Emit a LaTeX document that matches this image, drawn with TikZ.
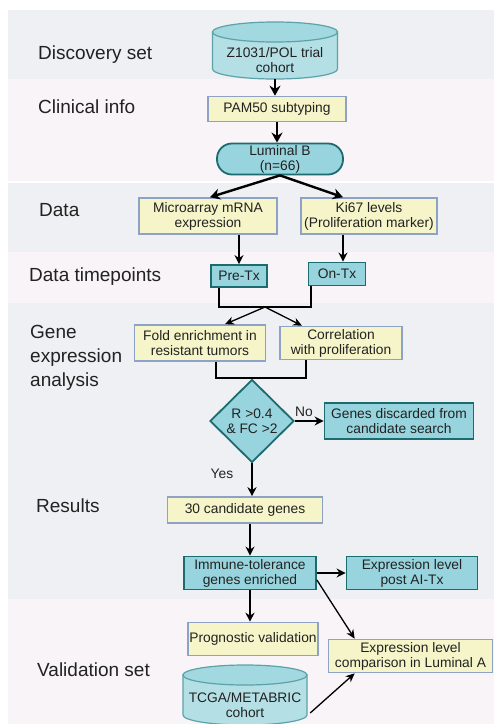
\documentclass[tikz,border=0pt]{standalone}
\usepackage{fontspec}
\setmainfont{Liberation Sans}
\usetikzlibrary{shapes.geometric,arrows.meta}

\definecolor{bandgray}{HTML}{EFF0F3}
\definecolor{bandpink}{HTML}{F8F4F8}
\definecolor{boxyellow}{HTML}{F5F5C9}
\definecolor{boxblue}{HTML}{8DA2C4}
\definecolor{tealfill}{HTML}{97D4DE}
\definecolor{tealedge}{HTML}{1C6B6E}
\definecolor{cylbody}{HTML}{B3DFE5}
\definecolor{cyltop}{HTML}{A2D8DF}
\definecolor{cyledge}{HTML}{5BA3A8}
\definecolor{inktext}{HTML}{222222}

\newcommand\boxfont{\fontsize{13.8}{15}\selectfont}
\newcommand\labelfont{\fontsize{19}{24}\selectfont}

\tikzset{
	every node/.append style={text=inktext},
	ybox/.style={draw=boxblue, fill=boxyellow, line width=1.6pt, align=center, inner sep=1pt, font=\boxfont},
	tbox/.style={draw=tealedge, fill=tealfill, line width=1.8pt, align=center, inner sep=1pt, font=\boxfont},
	cylside/.style={fill=cylbody, draw=cyledge, line width=1.2pt},
	cylcap/.style={fill=cyltop, draw=cyledge, line width=1.2pt},
	cyltext/.style={align=center, inner sep=0pt, font=\boxfont},
	rowlabel/.style={anchor=base west, align=left, inner sep=0pt, font=\labelfont},
	flowtag/.style={inner sep=0pt, font=\boxfont},
	arr/.style={-{Stealth[length=10pt,width=11pt]}, line width=2.4pt},
	arrmid/.style={-{Stealth[length=9pt,width=9pt]}, line width=1.8pt},
	arrthin/.style={-{Stealth[length=9pt,width=8pt]}, line width=1.3pt},
}

\newcommand\Band[3]{%
	\fill[#1] (8,#2) rectangle (494,#3);
	}
\newcommand\Cyl[6]{%
	\begin{scope}[shift={(#2,#3)}]
		\path[cylside] (-#4,-#5+10) -- (-#4,#5-10)
		arc[start angle=180, end angle=0, x radius=#4, y radius=10]
		-- (#4,-#5+10) -- cycle;
		\path[cylcap] (0,-#5+10) ellipse[x radius=#4, y radius=10];
	\end{scope}
	\node[cyltext, minimum width={2*#4pt}, minimum height={2*#5pt-20pt}] (#1) at (#2,#3+10) {#6};
	}

\begin{document}
\begin{tikzpicture}[x=1pt, y=-1pt]
	\useasboundingbox (0,0) rectangle (494,724);
	% background rows
	\Band{bandgray}{10}{79}
	\Band{bandpink}{79}{181}
	\Band{bandgray}{183}{252}
	\Band{bandpink}{252}{303}
	\Band{bandgray}{303}{599}
	\Band{bandpink}{599}{724}
	
	% row labels
	\node[rowlabel] (lDisc) at (38,59) {Discovery set};
	\node[rowlabel] (lClin) at (38,113) {Clinical info};
	\node[rowlabel] (lData) at (39,216) {Data};
	\node[rowlabel] (lTime) at (29,281) {Data timepoints};
	\node[rowlabel] (lGene) at (30,386) {Gene\\expression\\analysis};
	\node[rowlabel] (lRes) at (36,512) {Results};
	\node[rowlabel] (lVal) at (37,676) {Validation set};
	
	% discovery part
	\Cyl{z1031}{275}{50.5}{62.5}{28.5}{Z1031/POL trial\\cohort}
	\node[ybox, minimum width=138pt, minimum height=25pt] (pam50) at (277,109) {PAM50 subtyping};
	\node[tbox, rounded corners=15pt, minimum width=126pt, minimum height=31pt] (lumB) at (280,159) {Luminal B\\(n=66)};
	\node[ybox, minimum width=138pt, minimum height=36pt] (micro) at (208,216) {Microarray mRNA\\expression};
	\node[ybox, minimum width=136pt, minimum height=36pt] (ki67) at (369,216) {Ki67 levels\\(Proliferation marker)};
	\node[tbox, minimum width=56pt, minimum height=22pt] (pretx) at (239,276) {Pre-Tx};
	\node[tbox, minimum width=57pt, minimum height=23pt] (ontx) at (337,274) {On-Tx};
	\node[ybox, minimum width=131pt, minimum height=36pt] (fold) at (200,343) {Fold enrichment in\\resistant tumors};
	\node[ybox, minimum width=122pt, minimum height=33pt] (corr) at (341,343) {Correlation\\with proliferation};
	\node[diamond, draw=tealedge, fill=tealfill, line width=1.8pt, minimum width=84pt, minimum height=83pt, inner sep=0pt, align=center, font=\boxfont] (crit) at (252,421) {R >0.4\\\& FC >2};
	\node[tbox, minimum width=149pt, minimum height=36pt] (disc) at (399,421) {Genes discarded from\\candidate search};
	\node[ybox, minimum width=155pt, minimum height=26pt] (cand) at (245,510) {30 candidate genes};
	\node[tbox, minimum width=132pt, minimum height=33pt] (immune) at (250,573) {Immune-tolerance\\genes enriched};
	\node[tbox, minimum width=131pt, minimum height=33pt] (post) at (412,573) {Expression level\\post AI-Tx};
	
	% validation part
	\node[ybox, minimum width=130pt, minimum height=33pt] (prog) at (253,639) {Prognostic validation};
	\node[ybox, minimum width=164pt, minimum height=33pt] (lumA) at (410.5,656) {Expression level\\comparison in Luminal A};
	\Cyl{tcga}{245}{695}{62}{30}{TCGA/METABRIC\\cohort}
	
	% connectors
	\draw[arr] (z1031.south) -- (z1031.south |- pam50.north);
	\draw[arr] (pam50.south) -- (pam50.south |- lumB.north);
	\draw[arr] (lumB.south) -- ([xshift=2pt]micro.north);
	\draw[arr] (lumB.south) -- ([xshift=-26pt]ki67.north);
	\draw[arrmid] (pretx.north |- micro.south) -- (pretx.north);
	\draw[arrmid] ([xshift=-26pt]ki67.south) -- ([xshift=-26pt]ki67.south |- ontx.north);
	
	\coordinate (j1) at (265,307);
	\draw[line width=2pt] ([xshift=-20pt]pretx.south) |- (j1) -| ([xshift=-26pt]ontx.south);
	\draw[arrthin] (j1) -- ([xshift=25pt]fold.north);
	\draw[arrthin] (j1) -- ([xshift=-39pt]corr.north);
	
	\coordinate (j2) at (253,378);
	\draw[line width=2pt] ([xshift=16pt]fold.south) |- (j2) -| ([xshift=-35pt]corr.south);
	
	\draw[arrmid] (crit.east) -- (crit.east -| disc.west);
	\node[flowtag] (noTag) at (304,412) {No};
	\draw[arrmid] (crit.south) -- (crit.south |- cand.north);
	\node[flowtag] (yesTag) at (222,474) {Yes};
	\draw[arrmid] (immune.north |- cand.south) -- (immune.north);
	\draw[arrmid] (immune.east) -- (post.west);
	\draw[arrmid] (immune.south) -- (immune.south |- prog.north);
	\draw[arrthin] ([yshift=-7pt]immune.east) -- ([xshift=27pt]lumA.north west);
	\draw[arrthin] ([xshift=3pt,yshift=-8pt]tcga.east) -- ([xshift=27pt]lumA.south west);
\end{tikzpicture}
\end{document}
